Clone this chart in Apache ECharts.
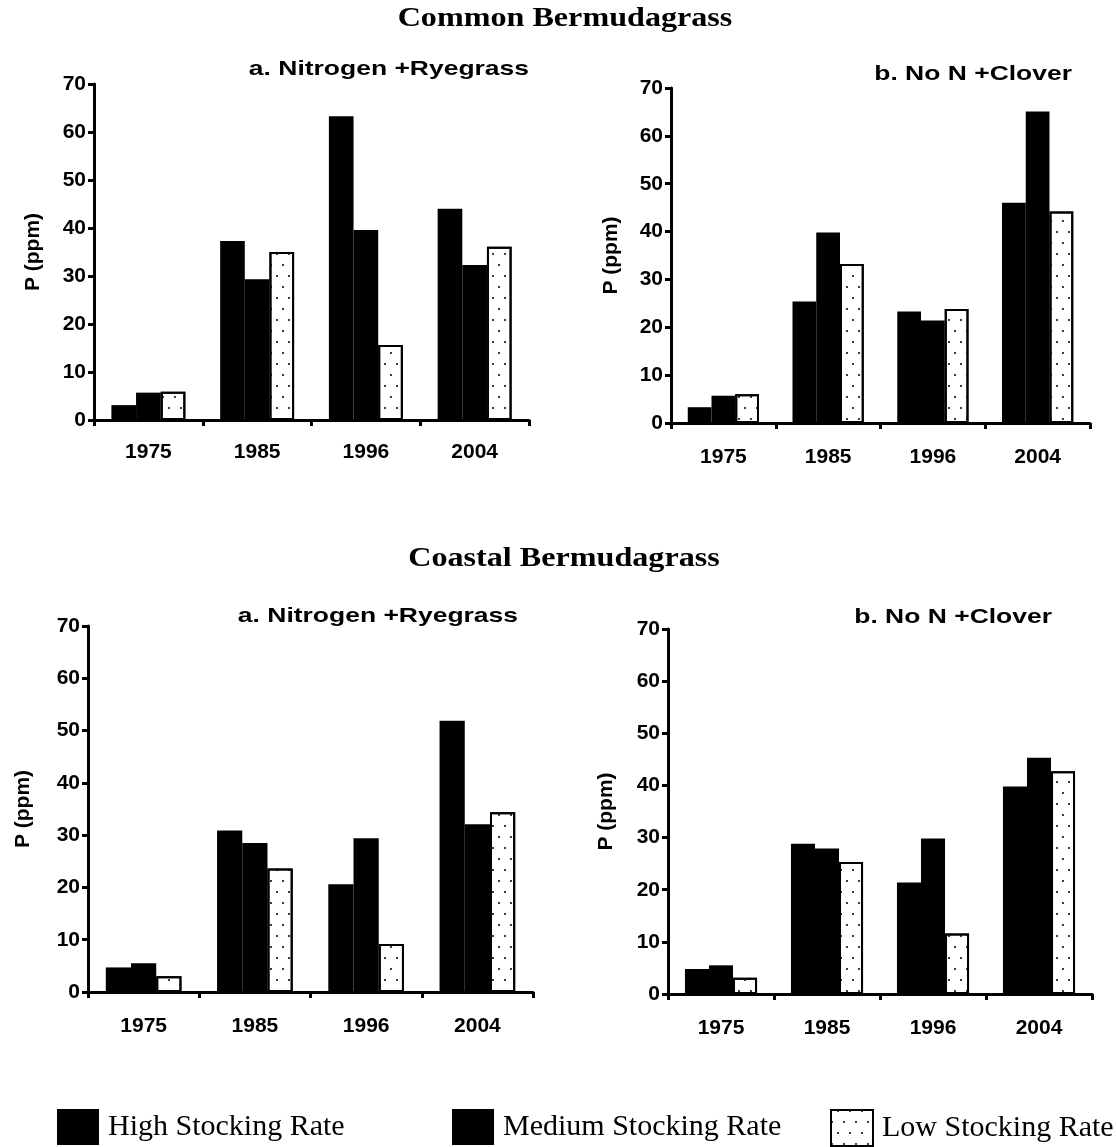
<!DOCTYPE html>
<html>
<head>
<meta charset="utf-8">
<script src="https://cdn.jsdelivr.net/npm/echarts@6/dist/echarts.min.js"></script>
<style>
  html, body { margin: 0; padding: 0; background: #fff; }
  #chart { width: 1116px; height: 1147px; }
</style>
</head>
<body>
<div id="chart"></div>
<script>
// ---- data ----
const years = ['1975', '1985', '1996', '2004'];
const seriesNames = ['High Stocking Rate', 'Medium Stocking Rate', 'Low Stocking Rate'];

// Common Bermudagrass, a. Nitrogen +Ryegrass
const commonN_high = [3.1, 37.3, 63.3, 44.0];
const commonN_med  = [5.7, 29.3, 39.6, 32.3];
const commonN_low  = [5.9, 35.0, 15.6, 36.1];
// Common Bermudagrass, b. No N +Clover
const commonC_high = [3.3, 25.4, 23.3, 46.0];
const commonC_med  = [5.7, 39.8, 21.4, 65.1];
const commonC_low  = [6.0, 33.2, 23.8, 44.2];
// Coastal Bermudagrass, a. Nitrogen +Ryegrass
const coastalN_high = [4.7, 30.9, 20.6, 51.9];
const coastalN_med  = [5.5, 28.5, 29.4, 32.1];
const coastalN_low  = [3.0, 23.6, 9.2, 34.4];
// Coastal Bermudagrass, b. No N +Clover
const coastalC_high = [4.8, 28.8, 21.4, 39.8];
const coastalC_med  = [5.5, 27.9, 29.8, 45.3];
const coastalC_low  = [3.1, 25.3, 11.6, 42.7];

const yTicks = { min: 0, max: 70, interval: 10 };

const panelTitles = ['a. Nitrogen +Ryegrass', 'b. No N +Clover', 'a. Nitrogen +Ryegrass', 'b. No N +Clover'];
const groupTitles = ['Common Bermudagrass', 'Coastal Bermudagrass'];
const yName = 'P (ppm)';

const panels = [
  [commonN_high, commonN_med, commonN_low],
  [commonC_high, commonC_med, commonC_low],
  [coastalN_high, coastalN_med, coastalN_low],
  [coastalC_high, coastalC_med, coastalC_low]
];

// ---- layout ----
const grids = [
  { left: 94,  top: 84,  width: 435, height: 336 },
  { left: 671, top: 88,  width: 419, height: 335 },
  { left: 88,  top: 626, width: 445, height: 366 },
  { left: 668, top: 629, width: 424, height: 365 }
];
const nameGaps = [50, 49, 54, 51];
const labelMargins = [22, 24, 24, 24];

const sans = 'Liberation Sans, Arial, sans-serif';
const serif = 'Liberation Serif, Times New Roman, serif';

const lowDecal = {
  symbol: 'circle',
  symbolSize: 1,
  dashArrayX: [[2, 10], [0, 6, 2, 4]],
  dashArrayY: [2, 9],
  color: '#000',
  rotation: 0
};

const xAxes = grids.map((g, i) => ({
  type: 'category',
  gridIndex: i,
  data: years,
  axisLine: { show: true, lineStyle: { color: '#000', width: 3 } },
  axisTick: { show: true, length: 6, lineStyle: { color: '#000', width: 3 }, alignWithLabel: false },
  axisLabel: { color: '#000', fontFamily: sans, fontWeight: 'bold', fontSize: 21, margin: labelMargins[i] },
  splitLine: { show: false }
}));

const yAxes = grids.map((g, i) => ({
  type: 'value',
  gridIndex: i,
  min: yTicks.min, max: yTicks.max, interval: yTicks.interval,
  name: yName,
  nameLocation: 'middle',
  nameRotate: 90,
  nameGap: nameGaps[i],
  nameTextStyle: { color: '#000', fontFamily: sans, fontWeight: 'bold', fontSize: 21 },
  axisLine: { show: true, lineStyle: { color: '#000', width: 3 } },
  axisTick: { show: true, length: 6, lineStyle: { color: '#000', width: 3 } },
  axisLabel: { color: '#000', fontFamily: sans, fontWeight: 'bold', fontSize: 21, margin: 8 },
  splitLine: { show: false }
}));

const series = [];
panels.forEach((p, i) => {
  p.forEach((vals, k) => {
    series.push({
      type: 'bar',
      name: seriesNames[k],
      xAxisIndex: i,
      yAxisIndex: i,
      data: vals,
      barGap: '0%',
      barCategoryGap: '32%',
      itemStyle: k === 2
        ? { color: '#fff', borderColor: '#000', borderWidth: 2, decal: lowDecal }
        : { color: '#000', borderColor: '#000', borderWidth: 0 },
      emphasis: { disabled: true },
      animation: false
    });
  });
});

// ---- text (real text, horizontally stretched like the original) ----
function txt(text, x, y, font, align, sx) {
  return {
    type: 'text', x: x, y: y, scaleX: sx, scaleY: 1, silent: true,
    style: {
      text: text, x: 0, y: 0, font: font, fill: '#000',
      align: align, verticalAlign: 'middle',
      textAlign: align, textVerticalAlign: 'middle'
    }
  };
}
const titleFont = 'bold 27px ' + serif;
const subFont = 'bold 21px ' + sans;
const graphics = [
  txt(groupTitles[0], 565, 19, titleFont, 'center', 1.19),
  txt(groupTitles[1], 564, 559, titleFont, 'center', 1.19),
  txt(panelTitles[0], 529, 69, subFont, 'right', 1.26),
  txt(panelTitles[1], 1072, 74, subFont, 'right', 1.26),
  txt(panelTitles[2], 518, 616, subFont, 'right', 1.26),
  txt(panelTitles[3], 1052, 617, subFont, 'right', 1.26)
];

const legendBase = {
  top: 1109, padding: 0, itemWidth: 42, itemHeight: 36, icon: 'rect', itemGap: 0,
  textStyle: { fontFamily: serif, fontSize: 30, color: '#000', padding: [0, 0, 0, 4] },
  selectedMode: false
};
const legends = [
  Object.assign({}, legendBase, { left: 57,  data: [seriesNames[0]] }),
  Object.assign({}, legendBase, { left: 452, data: [seriesNames[1]] }),
  Object.assign({}, legendBase, { left: 830, data: [seriesNames[2]] })
];

const chart = echarts.init(document.getElementById('chart'), null, { renderer: 'canvas' });
chart.setOption({
  backgroundColor: '#fff',
  animation: false,
  legend: legends,
  grid: grids.map(g => Object.assign({ containLabel: false }, g)),
  xAxis: xAxes,
  yAxis: yAxes,
  series: series,
  graphic: { elements: graphics }
});
</script>
</body>
</html>
